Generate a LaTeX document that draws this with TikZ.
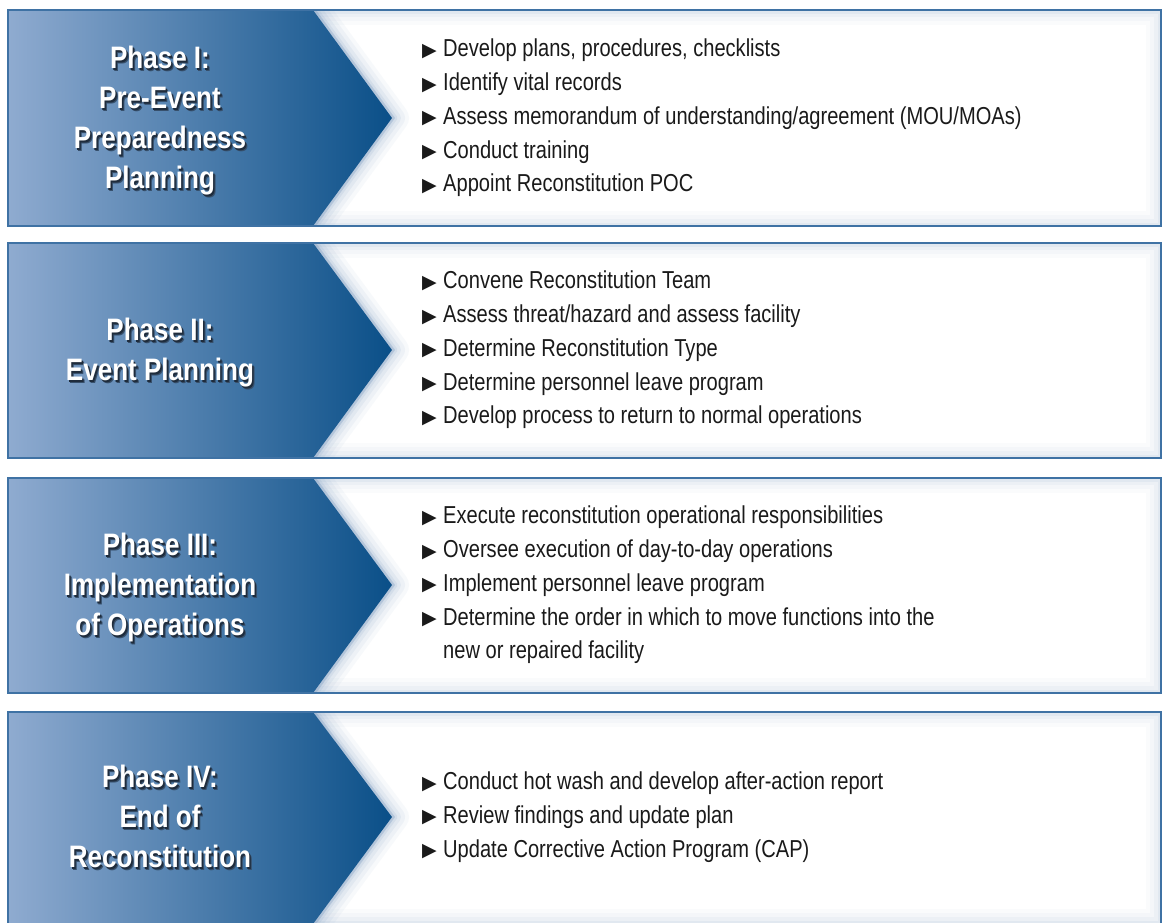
\documentclass[tikz,border=0pt]{standalone}
\usepackage{fontspec}
\setmainfont{Liberation Sans}
\newfontfamily\titlefont[FakeStretch=0.84]{Liberation Sans}
\newfontfamily\bodyfont[FakeStretch=0.82]{Liberation Sans}
\newfontfamily\symfont{DejaVu Sans}

\definecolor{boxedge}{HTML}{3F72A4}
\definecolor{glowblue}{HTML}{9DB6D2}
\definecolor{chevlight}{HTML}{8FABD0}
\definecolor{chevmid}{HTML}{4576A8}
\definecolor{chevdark}{HTML}{0A4F88}
\definecolor{hazeblue}{HTML}{6F92BC}
\definecolor{bodytext}{HTML}{1A1A1A}
\definecolor{titleshadow}{HTML}{1F2C3C}
\definecolor{titlehalo}{HTML}{37506C}

\newcommand\bul{\makebox[21pt][l]{\raisebox{0.5pt}{\symfont\fontsize{19}{19}\selectfont ▶}}}
\newcommand\cont{\hspace*{21pt}}
% centred title lines with a dark drop shadow behind them
\newcommand\titlelines[1]{\begin{tabular}{@{}c@{}}#1\end{tabular}}
\newcommand\shadowtitle[1]{%
  \makebox[0pt][l]{\hspace{2.5pt}\raisebox{-2.5pt}{\color{titlehalo}\titlelines{#1}}}%
  \makebox[0pt][l]{\hspace{1.5pt}\raisebox{-1.5pt}{\color{titleshadow}\titlelines{#1}}}%
  \titlelines{#1}}

\tikzset{
  phasetitle/.style={font=\titlefont\bfseries\fontsize{31}{40}\selectfont,
    inner sep=0pt, text=white},
  itemlist/.style={font=\bodyfont\fontsize{24.5}{33.7}\selectfont,
    align=left, inner sep=0pt, anchor=west, text=bodytext},
}

% #1 top, #2 bottom, #3 middle, #4 name, #5 title, #6 items
\newcommand\phaserow[6]{%
  \fill[white] (8,#1) rectangle (1161,#2);
  \begin{scope}
    \clip (8,#1) rectangle (1161,#2);
    % soft glow along the inside of the frame
    \foreach \w/\o in {30/0.05,22/0.06,14/0.09,7/0.13}
      \draw[glowblue, line width=\w pt, opacity=\o] (8,#1) rectangle (1161,#2);
    % haze to the right of the arrow
    \foreach \w/\o in {28/0.05,20/0.07,12/0.09,5/0.12}
      \filldraw[hazeblue, line width=\w pt, line join=round, opacity=\o]
        (8,#1) -- (316,#1) -- (395,#3) -- (316,#2) -- (8,#2) -- cycle;
    \shade[left color=chevlight, middle color=chevmid, right color=chevdark]
      (8,#1) -- (313,#1) -- (392,#3) -- (313,#2) -- (8,#2) -- cycle;
  \end{scope}
  \draw[boxedge, line width=2pt] (8,#1) rectangle (1161,#2);
  \node[phasetitle] (title#4) at (160,#3+4) {\shadowtitle{#5}};
  \node[itemlist] (items#4) at (422,#3) {#6};
}

\begin{document}
\begin{tikzpicture}[x=1pt,y=-1pt]
\useasboundingbox (0,0) rectangle (1165,922);
\fill[white] (0,0) rectangle (1165,922);

\phaserow{10}{226}{118}{one}
  {Phase I:\\Pre-Event\\Preparedness\\Planning}
  {\bul Develop plans, procedures, checklists\\
   \bul Identify vital records\\
   \bul Assess memorandum of understanding/agreement (MOU/MOAs)\\
   \bul Conduct training\\
   \bul Appoint Reconstitution POC}

\phaserow{243}{458}{350}{two}
  {Phase II:\\Event Planning}
  {\bul Convene Reconstitution Team\\
   \bul Assess threat/hazard and assess facility\\
   \bul Determine Reconstitution Type\\
   \bul Determine personnel leave program\\
   \bul Develop process to return to normal operations}

\phaserow{478}{693}{585}{three}
  {Phase III:\\Implementation\\of Operations}
  {\bul Execute reconstitution operational responsibilities\\
   \bul Oversee execution of day-to-day operations\\
   \bul Implement personnel leave program\\
   \bul Determine the order in which to move functions into the\\
   \cont new or repaired facility}

\phaserow{712}{924}{817}{four}
  {Phase IV:\\End of\\Reconstitution}
  {\bul Conduct hot wash and develop after-action report\\
   \bul Review findings and update plan\\
   \bul Update Corrective Action Program (CAP)}
\end{tikzpicture}
\end{document}
